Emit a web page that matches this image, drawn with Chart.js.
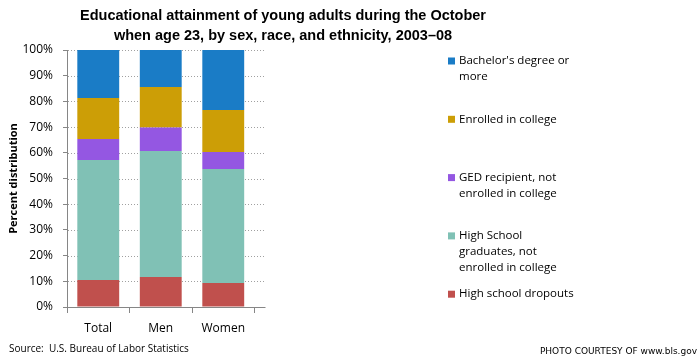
<!DOCTYPE html>
<html>
<head>
<meta charset="utf-8">
<script src="https://cdn.jsdelivr.net/npm/chart.js@4/dist/chart.umd.min.js"></script>
<style>
  html, body { margin: 0; padding: 0; background: #fff; }
  #wrap { width: 699px; height: 360px; position: relative; }
</style>
</head>
<body>
<div id="wrap"><canvas id="chart" width="699" height="360"></canvas></div>
<script>
// Daten (Prozent)
const categories = ["Total", "Men", "Women"];
const dropouts = [10.5, 11.7, 9.3];
const hsGraduates = [46.7, 49.0, 44.4];
const gedRecipients = [8.2, 9.1, 6.6];
const enrolled = [15.9, 15.8, 16.4];
const bachelors = [18.7, 14.4, 23.3];
const yTicks = [0, 10, 20, 30, 40, 50, 60, 70, 80, 90, 100];

const seriesNames = [
  "High school dropouts",
  "High School\ngraduates, not\nenrolled in college",
  "GED recipient, not\nenrolled in college",
  "Enrolled in college",
  "Bachelor's degree or\nmore",
];
const seriesColors = ["#c0504d", "#80c1b5", "#9457e2", "#cc9e06", "#1a7cc6"];
const titleLines = [
  "Educational attainment of young adults during the October",
  "when age 23, by sex, race, and ethnicity, 2003\u201308",
];

const FONT = "'Open Sans', 'Liberation Sans', sans-serif";

// gepunktetes Gitter hinter den Balken (leicht über den Plotbereich hinaus)
const dottedGrid = {
  id: "dottedGrid",
  beforeDatasetsDraw(chart) {
    const ctx = chart.ctx;
    const area = chart.chartArea;
    const y = chart.scales.y;
    ctx.save();
    ctx.strokeStyle = "#a0a0a0";
    ctx.lineWidth = 1;
    ctx.setLineDash([1, 2]);
    yTicks.slice(1).forEach((t) => {
      const py = Math.round(y.getPixelForValue(t)) + 0.5;
      ctx.beginPath();
      ctx.moveTo(area.left + 1, py);
      ctx.lineTo(area.right + 11, py);
      ctx.stroke();
    });
    ctx.restore();
  },
};

// Titel, Legende, Achsenlinien und Fußzeilen zeichnen
const extrasPlugin = {
  id: "extras",
  afterDraw(chart) {
    const ctx = chart.ctx;
    const area = chart.chartArea;
    ctx.save();

    // durchgezogene Achsenlinien
    ctx.strokeStyle = "#868686";
    ctx.lineWidth = 1;
    const by = Math.round(area.bottom) + 0.5;
    const lx = Math.round(area.left) + 0.5;
    ctx.beginPath();
    ctx.moveTo(lx, area.top);
    ctx.lineTo(lx, by);
    ctx.lineTo(area.right + 11, by);
    ctx.stroke();

    // Titel
    ctx.fillStyle = "#000";
    ctx.textAlign = "center";
    ctx.textBaseline = "middle";
    ctx.font = "bold 14.5px 'Liberation Sans', sans-serif";
    titleLines.forEach((line, i) => {
      ctx.fillText(line, 283, 16 + i * 20);
    });

    // Legende (umgekehrte Reihenfolge wie im Original)
    ctx.textAlign = "left";
    ctx.font = "11.5px " + FONT;
    const order = chart.data.datasets.map((d, i) => i).reverse();
    order.forEach((di, k) => {
      const ds = chart.data.datasets[di];
      const top = 61 + k * 58.3;
      ctx.fillStyle = ds.backgroundColor;
      ctx.fillRect(448, top - 3.5, 7, 7);
      ctx.fillStyle = "#000";
      ds.label.split("\n").forEach((l, j) => {
        ctx.fillText(l, 459, top + j * 16);
      });
    });

    // Quelle und Fußzeile
    ctx.font = "10px " + FONT;
    ctx.fillText("Source:  U.S. Bureau of Labor Statistics", 9, 349);
    ctx.textAlign = "right";
    ctx.font = "9px 'DejaVu Sans', sans-serif";
    ctx.fillText("PHOTO COURTESY OF www.bls.gov", 697, 352);
    ctx.restore();
  },
};

const stacks = [dropouts, hsGraduates, gedRecipients, enrolled, bachelors];

new Chart(document.getElementById("chart"), {
  type: "bar",
  data: {
    labels: categories,
    datasets: stacks.map((values, i) => ({
      label: seriesNames[i],
      data: values,
      backgroundColor: seriesColors[i],
      borderWidth: 0,
      categoryPercentage: 1,
      barPercentage: 0.67,
    })),
  },
  options: {
    responsive: false,
    animation: false,
    devicePixelRatio: 1,
    layout: { padding: { left: 0, top: 50, right: 444.5, bottom: 0 } },
    plugins: {
      legend: { display: false },
      title: { display: false },
      tooltip: { enabled: false },
    },
    scales: {
      x: {
        stacked: true,
        grid: {
          offset: true,
          drawOnChartArea: false,
          drawTicks: true,
          tickLength: 6,
          color: "#868686",
        },
        border: { display: false },
        ticks: {
          color: "#000",
          padding: 8,
          font: { family: FONT, size: 12 },
        },
        afterFit(axis) {
          axis.height = 53;
        },
      },
      y: {
        stacked: true,
        min: 0,
        max: 100,
        afterBuildTicks(axis) {
          axis.ticks = yTicks.map((v) => ({ value: v }));
        },
        grid: {
          drawOnChartArea: false,
          tickLength: 4,
          color: "#868686",
        },
        border: { display: false },
        ticks: {
          color: "#000",
          padding: 10,
          font: { family: FONT, size: 12 },
          callback: (v) => v + "%",
        },
        title: {
          display: true,
          text: "Percent distribution",
          color: "#000",
          font: { family: FONT, size: 11, weight: "bold" },
          padding: { top: 7, bottom: 0 },
        },
        afterFit(axis) {
          axis.width = 67;
        },
      },
    },
  },
  plugins: [dottedGrid, extrasPlugin],
});
</script>
</body>
</html>
